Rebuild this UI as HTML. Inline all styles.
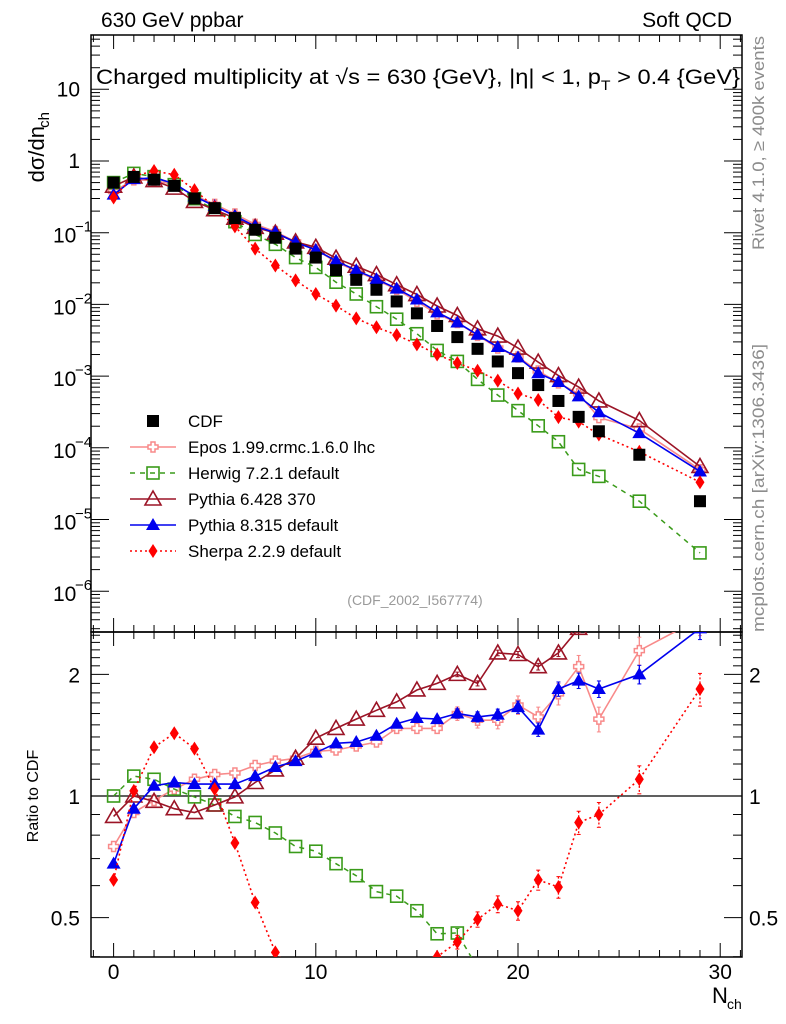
<!DOCTYPE html>
<html><head><meta charset="utf-8"><style>
html,body{margin:0;padding:0;background:#fff;overflow:hidden;width:786px;height:1024px}
svg{display:block;overflow:hidden;font-family:"Liberation Sans Narrow","Liberation Sans",sans-serif}
</style></head><body>
<svg id="c" width="786" height="1024" viewBox="0 0 786 1024" xmlns="http://www.w3.org/2000/svg"></svg>
<script>
const nch=[0,1,2,3,4,5,6,7,8,9,10,11,12,13,14,15,16,17,18,19,20,21,22,23,24,26,29];
const cdf=[0.5,0.6,0.55,0.45,0.3,0.22,0.16,0.11,0.085,0.06,0.045,0.03,0.022,0.016,0.011,0.0075,0.005,0.0035,0.0024,0.0016,0.0011,0.00075,0.00045,0.00027,0.00017,0.00008,0.000018];
const rEpos=[0.75,0.91,0.975,1.04,1.1,1.13,1.14,1.19,1.22,1.24,1.29,1.3,1.33,1.36,1.47,1.47,1.47,1.6,1.54,1.54,1.68,1.57,1.79,2.09,1.55,2.29,2.75];
const rHerwig=[1.0,1.12,1.1,1.04,0.995,0.95,0.89,0.86,0.81,0.75,0.73,0.68,0.635,0.58,0.565,0.52,0.456,0.458,0.375,0.34,0.3,0.27,0.27,0.185,0.235,0.225,0.19];
const rPy6=[0.89,1.0,0.97,0.93,0.91,0.95,0.995,1.08,1.16,1.24,1.39,1.47,1.55,1.63,1.71,1.83,1.9,2.0,1.9,2.26,2.24,2.09,2.26,2.6,2.65,3.0,3.05];
const rPy8=[0.68,0.93,1.06,1.08,1.07,1.07,1.07,1.12,1.18,1.22,1.28,1.35,1.36,1.41,1.51,1.56,1.55,1.6,1.57,1.59,1.66,1.46,1.84,1.93,1.84,2.0,2.6];
const rSherpa=[0.62,1.03,1.32,1.43,1.31,1.04,0.765,0.545,0.41,0.36,0.31,0.32,0.29,0.3,0.34,0.37,0.4,0.435,0.495,0.54,0.52,0.62,0.595,0.86,0.9,1.1,1.84];
const xTicks=[0,10,20,30];
const legendLabels=["CDF","Epos 1.99.crmc.1.6.0 lhc","Herwig 7.2.1 default","Pythia 6.428 370","Pythia 8.315 default","Sherpa 2.2.9 default"];

const NS="http://www.w3.org/2000/svg";
const svg=document.getElementById('c');
const L=91,R=742,T=35,MB=632,RB=957;
const X=n=>113.6+n*20.22;
const YM=v=>161-71.7*Math.log10(v);
const YR=r=>796-404*Math.log10(r);
function el(tag,attrs,parent){const e=document.createElementNS(NS,tag);for(const k in attrs)e.setAttribute(k,attrs[k]);(parent||svg).appendChild(e);return e;}
function txt(s,x,y,attrs,parent){const t=el('text',Object.assign({x:x,y:y},attrs),parent);t.textContent=s;return t;}

const defs=el('defs',{});
const cp1=el('clipPath',{id:'cm'},defs);el('rect',{x:L,y:T,width:R-L,height:MB-T},cp1);
const cp2=el('clipPath',{id:'cr'},defs);el('rect',{x:L,y:MB,width:R-L,height:RB-MB},cp2);

let f1=el('rect',{x:L,y:T,width:R-L,height:MB-T,fill:'none',stroke:'#000','stroke-width':1.5});

let f2=el('rect',{x:L,y:MB,width:R-L,height:RB-MB,fill:'none',stroke:'#000','stroke-width':1.5});


const tg=el('g',{stroke:'#000','stroke-width':1});

for(let n=-1;n<=31;n++){const x=X(n);if(x<L||x>R)continue;const big=n%10===0;const len=big?14:7;
 [[T,1],[MB,-1],[MB,1],[RB,-1]].forEach(([y,d])=>el('line',{x1:x,x2:x,y1:y,y2:y+d*len},tg));}
xTicks.forEach(n=>{const t=txt(String(n),X(n),979,{'font-size':21,'text-anchor':'middle'});});
const xt=txt('N',712,1003,{'font-size':22});
txt('ch',727,1009,{'font-size':14});

const yg=el('g',{stroke:'#000','stroke-width':1});

for(let e=-7;e<=2;e++){for(let m=1;m<10;m++){const v=m*Math.pow(10,e);const y=YM(v);if(y<T||y>MB)continue;const len=m===1?18:9;
 el('line',{x1:L,x2:L+len,y1:y,y2:y},yg);el('line',{x1:R,x2:R-len,y1:y,y2:y},yg);}}
const ylabs=[[1,'10',''],[0,'1',''],[-1,'10','−1'],[-2,'10','−2'],[-3,'10','−3'],[-4,'10','−4'],[-5,'10','−5'],[-6,'10','−6']];
ylabs.forEach(([e,b,s])=>{const y=YM(Math.pow(10,e))+7;const g=el('g',{});
 if(s){txt(b,53,y+3,{'font-size':21},g);txt(s,75,y-8,{'font-size':15},g);}else{txt(b,80,y,{'font-size':21,'text-anchor':'end'},g);}});
const yt=el('g',{transform:'translate(44,112) rotate(-90)'});
txt('dσ/dn',0,0,{'font-size':22,'text-anchor':'end','dx':-14},yt);txt('ch',0,5,{'font-size':15,'text-anchor':'end','dx':0},yt);

const rg=el('g',{stroke:'#000','stroke-width':1});

const rt=[0.4,0.5,0.6,0.7,0.8,0.9,1,1.1,1.2,1.3,1.4,1.5,1.6,1.7,1.8,1.9,2,2.1,2.2,2.3,2.4,2.5];
rt.forEach(r=>{const y=YR(r);if(y<MB||y>RB)return;const big=(r===0.5||r===1||r===2);const len=big?18:9;
 el('line',{x1:L,x2:L+len,y1:y,y2:y},rg);el('line',{x1:R,x2:R-len,y1:y,y2:y},rg);});
[[2,'2'],[1,'1'],[0.5,'0.5']].forEach(([r,s])=>{const y=YR(r)+8;
 let a=txt(s,80,y,{'font-size':21,'text-anchor':'end'});
 let b=txt(s,749,y,{'font-size':21});});
const rtt=txt('Ratio to CDF',0,0,{'font-size':16,'text-anchor':'middle',transform:'translate(38,796) rotate(-90)'});

let one=el('line',{x1:L,x2:R,y1:YR(1),y2:YR(1),stroke:'#000','stroke-width':1.3});


let t1=txt('630 GeV ppbar',101,27,{'font-size':21});
let t2=txt('Soft QCD',732,27,{'font-size':21,'text-anchor':'end'});
let tt=el('text',{x:96,y:84,'font-size':21,textLength:644,lengthAdjust:'spacingAndGlyphs'});

tt.innerHTML='Charged multiplicity at √s = 630 {GeV}, |η| &lt; 1, p<tspan dy="6" font-size="14">T</tspan><tspan dy="-6"> &gt; 0.4 {GeV}</tspan>';
let g1=txt('Rivet 4.1.0, ≥ 400k events',0,0,{'font-size':17,fill:'#8c8c8c','text-anchor':'middle',transform:'translate(764,143) rotate(-90)',textLength:214,lengthAdjust:'spacingAndGlyphs'});

let g2=txt('mcplots.cern.ch [arXiv:1306.3436]',0,0,{'font-size':17,fill:'#8c8c8c','text-anchor':'middle',transform:'translate(764,488) rotate(-90)',textLength:288,lengthAdjust:'spacingAndGlyphs'});

let g3=txt('(CDF_2002_I567774)',415,605,{'font-size':14,fill:'#9a9a9a','text-anchor':'middle'});


function marker(type,x,y,col,p){
 if(type==='sq'){el('rect',{x:x-6,y:y-6,width:12,height:12,fill:'#000'},p);}
 else if(type==='cross'){const a=2,b=5;el('path',{d:`M${x-a},${y-b}h${2*a}v${b-a}h${b-a}v${2*a}h${a-b}v${b-a}h${-2*a}v${a-b}h${a-b}v${-2*a}h${b-a}z`,fill:'#fff',stroke:col,'stroke-width':1.5},p);}
 else if(type==='osq'){el('rect',{x:x-6,y:y-6,width:12,height:12,fill:'none',stroke:col,'stroke-width':1.6},p);}
 else if(type==='otri'){el('path',{d:`M${x},${y-8}L${x+8},${y+6}L${x-8},${y+6}z`,fill:'none',stroke:col,'stroke-width':1.6},p);}
 else if(type==='tri'){el('path',{d:`M${x},${y-7}L${x+7},${y+5}L${x-7},${y+5}z`,fill:col},p);}
 else if(type==='dia'){el('path',{d:`M${x},${y-7}L${x+4.5},${y}L${x},${y+7}L${x-4.5},${y}z`,fill:col},p);}
}
const series=[
 {name:'epos',r:rEpos,col:'#f88a8a',m:'cross',dash:'',w:1.6,err:0.03},
 {name:'herwig',r:rHerwig,col:'#3a9b1a',m:'osq',dash:'5,5',w:1.5,err:0.02},
 {name:'pythia6',r:rPy6,col:'#9b1426',m:'otri',dash:'',w:1.6,err:0.01},
 {name:'pythia8',r:rPy8,col:'#0000ee',m:'tri',dash:'',w:1.6,err:0.02},
 {name:'sherpa',r:rSherpa,col:'#ff0000',m:'dia',dash:'2,3',w:1.6,err:0.03},
];
function drawSeries(s,panel){
 const g=el('g',{'clip-path':panel==='main'?'url(#cm)':'url(#cr)'});
 
 const Y=(i)=>panel==='main'?YM(cdf[i]*s.r[i]):YR(s.r[i]);
 const pts=nch.map((n,i)=>X(n).toFixed(1)+','+Y(i).toFixed(1)).join(' ');
 el('polyline',{points:pts,fill:'none',stroke:s.col,'stroke-width':s.w,'stroke-dasharray':s.dash},g);
 nch.forEach((n,i)=>{const fe=s.err*(1+Math.max(0,n-15)*0.15);
  if(panel==='ratio'&&n>=17){const y1=YR(s.r[i]*(1+fe)),y2=YR(s.r[i]*(1-fe));
   el('line',{x1:X(n),x2:X(n),y1:y1,y2:y2,stroke:s.col,'stroke-width':1.3,'stroke-dasharray':s.name==='sherpa'?'2,2':''},g);
   el('line',{x1:X(n)-2,x2:X(n)+2,y1:y1,y2:y1,stroke:s.col},g);el('line',{x1:X(n)-2,x2:X(n)+2,y1:y2,y2:y2,stroke:s.col},g);}
  marker(s.m,X(n),Y(i),s.col,g);});
}
series.forEach(s=>drawSeries(s,'main'));
const cg=el('g',{'clip-path':'url(#cm)'});
nch.forEach((n,i)=>marker('sq',X(n),YM(cdf[i]),'#000',cg));
series.forEach(s=>drawSeries(s,'ratio'));

const lg=el('g',{});
const lm=[null].concat(series);
legendLabels.forEach((lab,i)=>{const y=421+i*26;const e=el('g',{},lg);
 
 if(i===0){marker('sq',153,y,'#000',e);}else{const s=lm[i];
  el('line',{x1:130,x2:176,y1:y,y2:y,stroke:s.col,'stroke-width':s.w,'stroke-dasharray':s.dash},e);marker(s.m,153,y,s.col,e);}
 txt(lab,188,y+6,{'font-size':17},e);});
</script>
</body></html>
